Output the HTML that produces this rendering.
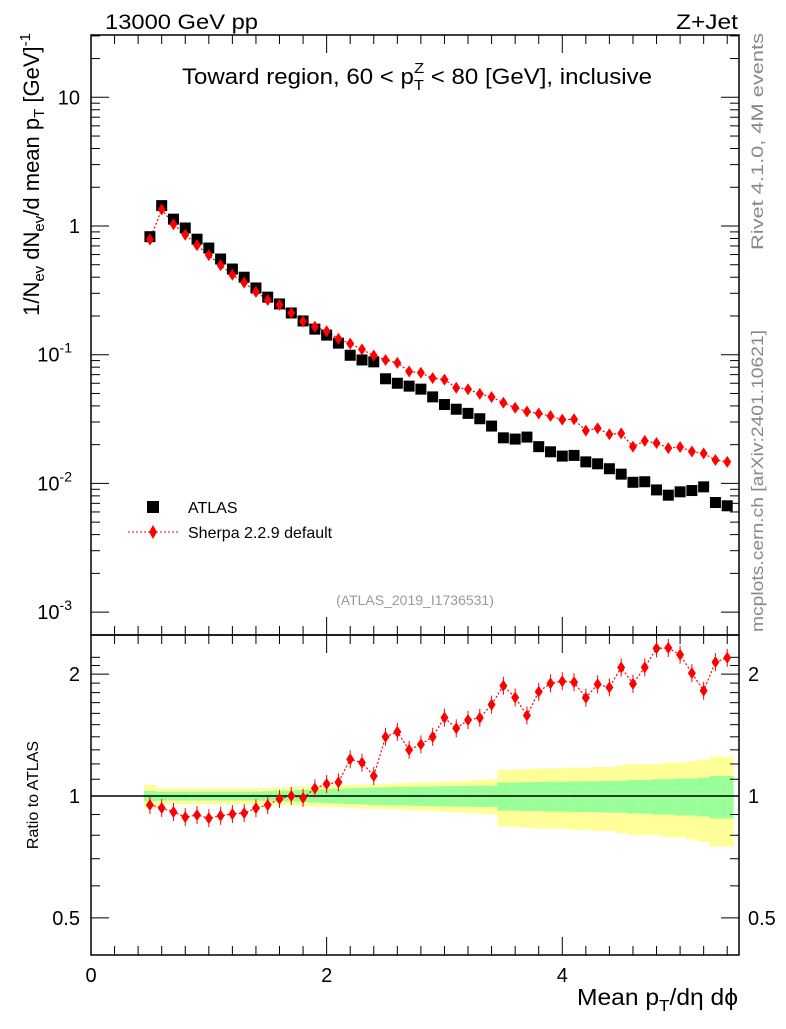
<!DOCTYPE html>
<html><head><meta charset="utf-8"><style>
body{margin:0;background:#fff}
svg text{font-family:"Liberation Sans",sans-serif}
</style></head><body>
<svg id="c" width="786" height="1024" viewBox="0 0 786 1024" xmlns="http://www.w3.org/2000/svg">
<g id="bands"></g>
<g id="axes"></g>
<g id="marks"></g>
<text x="105" y="29" font-size="21" textLength="153" lengthAdjust="spacingAndGlyphs">13000 GeV pp</text>
<text x="676" y="29" font-size="21" textLength="62" lengthAdjust="spacingAndGlyphs">Z+Jet</text>
<text x="182" y="84" font-size="22" textLength="470" lengthAdjust="spacingAndGlyphs">Toward region, 60 &lt; p<tspan font-size="15" dy="6">T</tspan><tspan font-size="15" dx="-9" dy="-17">Z</tspan><tspan dy="11"> &lt; 80 [GeV], inclusive</tspan></text>
<text transform="translate(763,33) rotate(-90)" font-size="17" fill="#888" text-anchor="end" textLength="217" lengthAdjust="spacingAndGlyphs">Rivet 4.1.0,  4M events</text>
<text transform="translate(763,632) rotate(-90)" font-size="17" fill="#888" textLength="302" lengthAdjust="spacingAndGlyphs">mcplots.cern.ch [arXiv:2401.10621]</text>
<text x="415" y="605" font-size="14" fill="#999" text-anchor="middle">(ATLAS_2019_I1736531)</text>
<text transform="translate(39,33) rotate(-90)" font-size="22" text-anchor="end">1/N<tspan font-size="15" dy="5">ev</tspan><tspan dy="-5"> dN</tspan><tspan font-size="15" dy="5">ev</tspan><tspan dy="-5">/d mean p</tspan><tspan font-size="15" dy="5">T</tspan><tspan dy="-5">  [GeV]</tspan><tspan font-size="15" dy="-9">-1</tspan></text>
<text transform="translate(38,795) rotate(-90)" font-size="16" text-anchor="middle">Ratio to ATLAS</text>
<text x="577" y="1005" font-size="23" textLength="161" lengthAdjust="spacingAndGlyphs">Mean p<tspan font-size="16" dy="6">T</tspan><tspan dy="-6">/dη dϕ</tspan></text>
<g>
<rect x="147" y="501" width="12" height="12" fill="#000"/>
<text x="188" y="513" font-size="16">ATLAS</text>
<line x1="128" y1="532" x2="178" y2="532" stroke="red" stroke-dasharray="2,2"/>
<polygon points="153,525 157,532 153,539 149,532" fill="red"/>
<text x="188" y="538" font-size="16">Sherpa 2.2.9 default</text>
</g>
</svg>
<script>
const xCenters=[0.5,0.6,0.7,0.8,0.9,1.0,1.1,1.2,1.3,1.4,1.5,1.6,1.7,1.8,1.9,2.0,2.1,2.2,2.3,2.4,2.5,2.6,2.7,2.8,2.9,3.0,3.1,3.2,3.3,3.4,3.5,3.6,3.7,3.8,3.9,4.0,4.1,4.2,4.3,4.4,4.5,4.6,4.7,4.8,4.9,5.0,5.1,5.2,5.3,5.4];
const atlasValues=[0.826,1.44,1.13,0.965,0.79,0.674,0.554,0.463,0.40,0.33,0.28,0.248,0.211,0.183,0.158,0.142,0.123,0.099,0.091,0.088,0.065,0.060,0.057,0.054,0.047,0.041,0.0377,0.035,0.0318,0.0279,0.0226,0.0221,0.0229,0.0193,0.0176,0.0163,0.0165,0.0147,0.0142,0.013,0.0118,0.0102,0.0103,0.0089,0.0081,0.0086,0.0088,0.0094,0.0071,0.0067];
const sherpaValues=[0.785,1.345,1.032,0.856,0.709,0.594,0.495,0.418,0.363,0.308,0.266,0.244,0.211,0.181,0.165,0.152,0.133,0.122,0.110,0.0986,0.091,0.0864,0.0741,0.0724,0.0658,0.064,0.0554,0.0539,0.0496,0.0469,0.0423,0.0387,0.0362,0.0349,0.0334,0.0313,0.0315,0.0257,0.0268,0.0241,0.0245,0.0193,0.0214,0.0206,0.0188,0.0192,0.0177,0.0171,0.0152,0.0147];
const statErr=[0.03,0.025,0.025,0.025,0.025,0.025,0.025,0.025,0.025,0.025,0.027,0.03,0.032,0.035,0.037,0.04,0.042,0.045,0.047,0.05,0.05,0.052,0.053,0.055,0.056,0.057,0.058,0.059,0.06,0.06,0.08,0.08,0.082,0.083,0.085,0.085,0.087,0.087,0.088,0.09,0.09,0.095,0.095,0.1,0.1,0.105,0.105,0.11,0.12,0.12];
const totErr=[0.065,0.045,0.045,0.045,0.045,0.045,0.045,0.045,0.045,0.045,0.048,0.05,0.052,0.055,0.058,0.06,0.062,0.065,0.068,0.07,0.072,0.075,0.078,0.08,0.082,0.085,0.088,0.09,0.095,0.1,0.16,0.16,0.165,0.17,0.17,0.17,0.175,0.175,0.18,0.18,0.19,0.2,0.2,0.2,0.21,0.21,0.22,0.23,0.25,0.25];
const xTicks=[0,2,4];
const mainTicks=[{v:10,t:"10"},{v:1,t:"1"},{v:0.1,t:"10",e:"-1"},{v:0.01,t:"10",e:"-2"},{v:0.001,t:"10",e:"-3"}];
const ratioTicks=[2,1,0.5];

const L=91,R=739,T=35,M=635,B=955;
const X=v=>L+(v/5.5)*(R-L);
const Y=v=>226-128.7*Math.log10(v);
const YR=v=>796-405*Math.log10(v);
const NS="http://www.w3.org/2000/svg";
function mk(p,tag,attrs){const e=document.createElementNS(NS,tag);for(const k in attrs)e.setAttribute(k,attrs[k]);p.appendChild(e);return e;}
const axes=document.getElementById('axes'),marks=document.getElementById('marks'),bands=document.getElementById('bands');

xCenters.forEach((x,i)=>{
  const x0=X(x-0.05),x1=X(x+0.05);
  const y=mk(bands,'rect',{x:x0,y:YR(1+totErr[i]),width:x1-x0+0.5,height:YR(1-totErr[i])-YR(1+totErr[i]),fill:'#ffff99'});
  
  
  const g=mk(bands,'rect',{x:x0,y:YR(1+statErr[i]),width:x1-x0+0.5,height:YR(1-statErr[i])-YR(1+statErr[i]),fill:'#99ff99'});
  
  
});

mk(axes,'rect',{x:L,y:T,width:R-L,height:M-T,fill:'none',stroke:'#000','stroke-width':1.5});
mk(axes,'rect',{x:L,y:M,width:R-L,height:B-M,fill:'none',stroke:'#000','stroke-width':1.5});
mk(axes,'line',{x1:L,x2:R,y1:YR(1),y2:YR(1),stroke:'#000','stroke-width':1.5});
for(let k=0;k<=27;k++){const v=k*0.2;if(v>5.5)break;const x=X(v);const big=(k%10===0);const len=big?18:9;
  [[B,-1],[M,-1],[M,1],[T,1]].forEach(([yy,d])=>mk(axes,'line',{x1:x,x2:x,y1:yy,y2:yy+d*len,stroke:'#000'}));}
xTicks.forEach(v=>{const t=mk(axes,'text',{x:X(v),y:982,'font-size':20,'text-anchor':'middle'});t.textContent=v;
  
  });
for(let d=-3;d<=1;d++){for(let m=1;m<=9;m++){const v=m*Math.pow(10,d);const y=Y(v);if(y<T||y>M)continue;const len=m===1?18:9;
  mk(axes,'line',{x1:L,x2:L+len,y1:y,y2:y,stroke:'#000'});mk(axes,'line',{x1:R,x2:R-len,y1:y,y2:y,stroke:'#000'});}}
mainTicks.forEach(o=>{const t=mk(axes,'text',{x:o.e?72:80,y:Y(o.v)+7,'font-size':20,'text-anchor':'end'});t.textContent=o.t;
  if(o.e){const s=mk(t,'tspan',{'font-size':14,dy:-9});s.textContent=o.e;}
  
  });
[0.5,0.6,0.7,0.8,0.9,1,1.1,1.2,1.3,1.4,1.5,1.6,1.7,1.8,1.9,2,2.1,2.2].forEach(v=>{const y=YR(v);if(y<M||y>B)return;const big=(v===0.5||v===1||v===2);const len=big?18:9;
  mk(axes,'line',{x1:L,x2:L+len,y1:y,y2:y,stroke:'#000'});mk(axes,'line',{x1:R,x2:R-len,y1:y,y2:y,stroke:'#000'});});
ratioTicks.forEach(v=>{[[80,'end'],[748,'start']].forEach(([x,a])=>{const t=mk(axes,'text',{x:x,y:YR(v)+7,'font-size':20,'text-anchor':a});t.textContent=v;
  
  });});

const sp=xCenters.map((x,i)=>X(x)+','+Y(sherpaValues[i])).join(' ');
const ln=mk(marks,'polyline',{points:sp,fill:'none',stroke:'red','stroke-dasharray':'2,2','stroke-width':1.2});


xCenters.forEach((x,i)=>{const r=mk(marks,'rect',{x:X(x)-5.5,y:Y(atlasValues[i])-5.5,width:11,height:11,fill:'#000'});
  
  });
xCenters.forEach((x,i)=>{const cx=X(x),cy=Y(sherpaValues[i]);const p=mk(marks,'polygon',{points:`${cx},${cy-6} ${cx+4},${cy} ${cx},${cy+6} ${cx-4},${cy}`,fill:'red'});
  
  });
const ratios=xCenters.map((x,i)=>sherpaValues[i]/atlasValues[i]);
const rl=mk(marks,'polyline',{points:xCenters.map((x,i)=>X(x)+','+YR(ratios[i])).join(' '),fill:'none',stroke:'red','stroke-dasharray':'2,2','stroke-width':1.2});


xCenters.forEach((x,i)=>{const cx=X(x),cy=YR(ratios[i]);
  mk(marks,'line',{x1:cx,x2:cx,y1:cy-9,y2:cy+9,stroke:'red'});
  const p=mk(marks,'polygon',{points:`${cx},${cy-6} ${cx+4},${cy} ${cx},${cy+6} ${cx-4},${cy}`,fill:'red'});
  
  });
</script>
</body></html>
